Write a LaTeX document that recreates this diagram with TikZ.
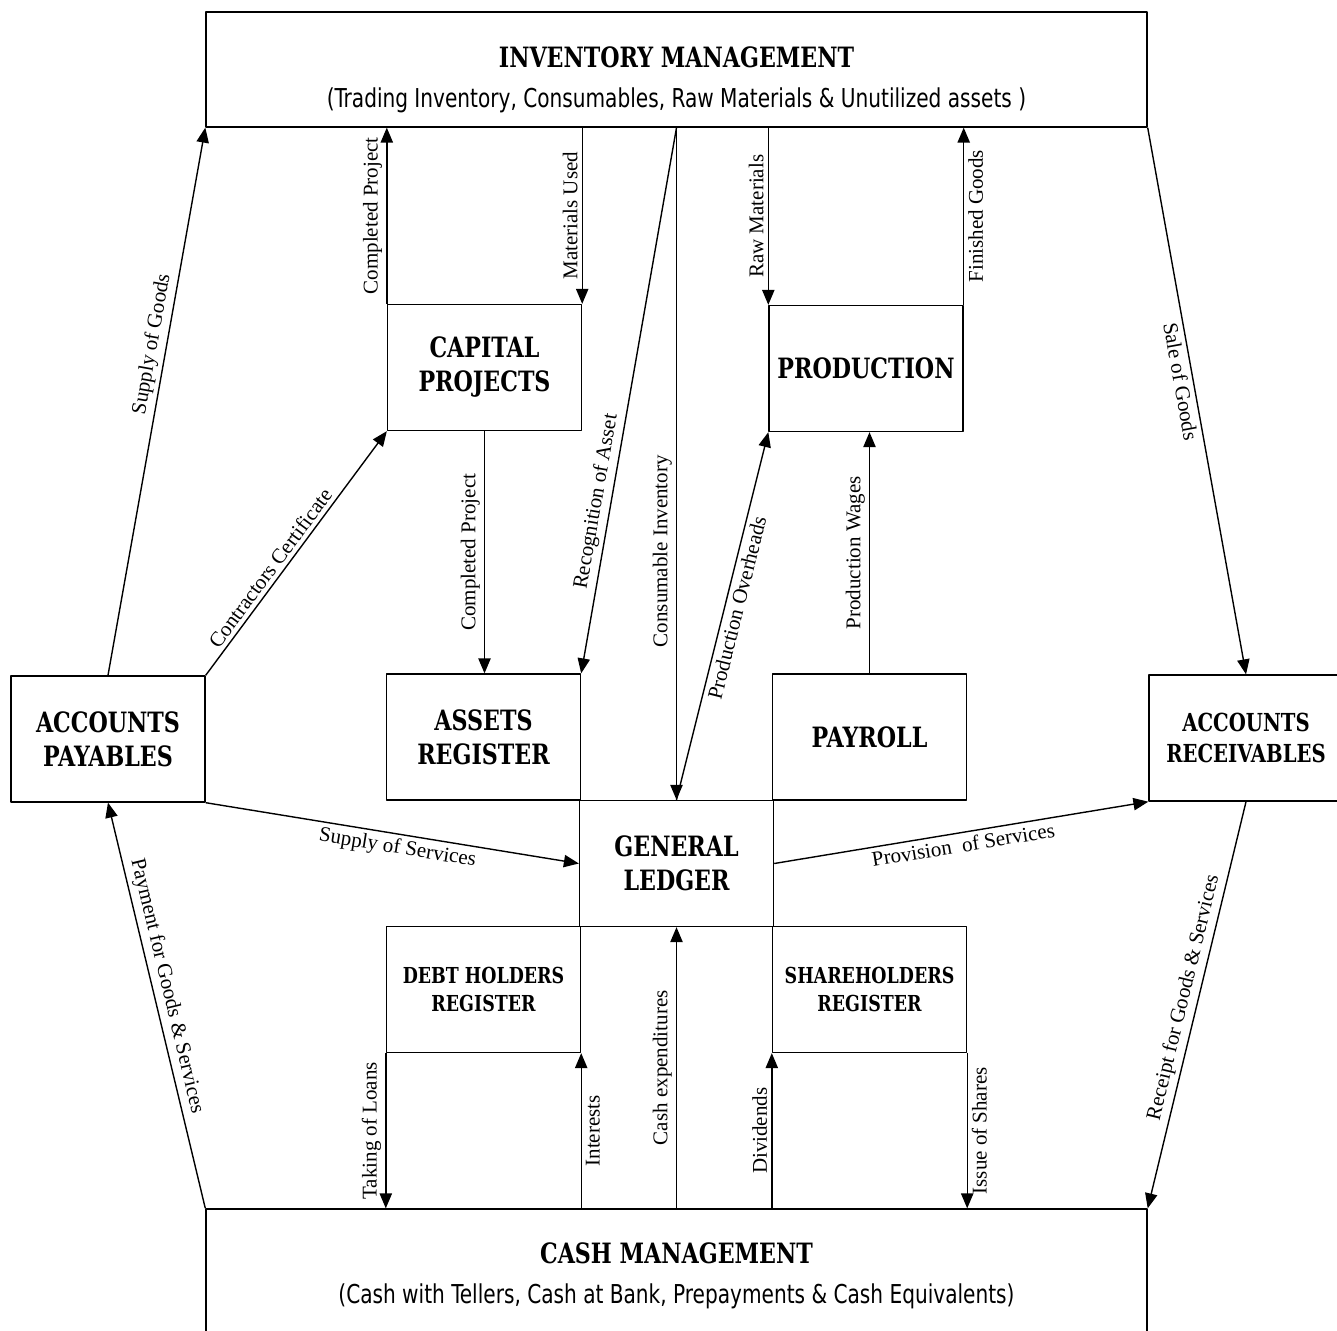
\documentclass[tikz,border=0pt]{standalone}
\usepackage{fontspec}
\setmainfont{Liberation Serif}
\newfontfamily\stencilfont{DejaVu Serif Condensed}[FakeStretch=0.88]
\newfontfamily\tahomafont{DejaVu Sans Condensed}[FakeStretch=0.86]
\usetikzlibrary{arrows}

\begin{document}
\begin{tikzpicture}[x=0.5pt,y=-0.5pt,>=triangle 45,line width=0.7pt,line join=round,
	blk/.style={draw,minimum width=97pt,minimum height=63pt,inner sep=0pt,align=center},
	bigttl/.style={font=\stencilfont\bfseries\fontsize{14}{17}\selectfont},
	midttl/.style={font=\stencilfont\bfseries\fontsize{12.4}{15.5}\selectfont},
	smallttl/.style={font=\stencilfont\bfseries\fontsize{11}{14}\selectfont},
	sl/.style={font=\fontsize{10.5}{12}\selectfont,sloped,inner sep=2pt},
	vl/.style={font=\fontsize{10.5}{12}\selectfont,rotate=90,anchor=south,inner sep=2pt},
	vr/.style={font=\fontsize{10.5}{12}\selectfont,rotate=90,anchor=north,inner sep=2pt}]
\useasboundingbox (0,0) rectangle (1337,1331);
\clip (0,0) rectangle (1337,1331);
\node[blk,minimum width=470.5pt,minimum height=57.5pt] (im) at (676.5,69.5) {};
\node[align=center] (imtxt) at (676.5,80) {{\stencilfont\bfseries\fontsize{14}{19}\selectfont INVENTORY MANAGEMENT}\\[8pt]
	{\tahomafont\fontsize{13}{15}\selectfont (Trading Inventory, Consumables, Raw Materials \& Unutilized assets )}};
\node[blk,minimum width=470.5pt,minimum height=66pt] (cm) at (676.5,1275) {};
\node[align=center] (cmtxt) at (676.5,1276) {{\stencilfont\bfseries\fontsize{14}{19}\selectfont CASH MANAGEMENT}\\[8pt]
	{\tahomafont\fontsize{13}{15}\selectfont (Cash with Tellers, Cash at Bank, Prepayments \& Cash Equivalents)}};
\node[blk,bigttl] (cp) at (484.5,367.5) {CAPITAL\\PROJECTS};
\node[blk,bigttl] (prod) at (866,368.5) {PRODUCTION};
\node[blk,bigttl] (ap) at (108,739) {ACCOUNTS\\PAYABLES};
\node[blk,bigttl] (asr) at (483.5,737) {ASSETS\\REGISTER};
\node[blk,bigttl] (pay) at (869.5,737) {PAYROLL};
\node[blk,midttl] (arec) at (1246,738) {ACCOUNTS\\RECEIVABLES};
\node[blk,bigttl] (gl) at (676.5,863.5) {GENERAL\\LEDGER};
\node[blk,smallttl] (dhr) at (483.5,989.5) {DEBT HOLDERS\\REGISTER};
\node[blk,smallttl] (shr) at (869.5,989.5) {SHAREHOLDERS\\REGISTER};
\draw[->] (ap.north) -- node[sl,above,pos=0.6]{Supply of Goods} (im.south west);
\draw[->] (ap.north east) -- node[sl,above,pos=0.41]{Contractors Certificate} (cp.south west);
\draw[->] (cp.north west) -- node[vl]{Completed Project} (cp.north west |- im.south);
\draw[->] (cp.north east |- im.south) -- node[vl]{Materials Used} (cp.north east);
\draw[->] (cp.south) -- node[vl]{Completed Project} (cp.south |- asr.north);
\draw[->] (im.south) -- node[sl,above,pos=0.69]{Recognition of Asset} (asr.north east);
\draw[->] (im.south) -- node[vl,pos=0.63]{Consumable Inventory} (gl.north);
\draw[->] (gl.north) -- node[sl,below,pos=0.53]{Production Overheads} (prod.south west);
\draw[->] (prod.north west |- im.south) -- node[vl]{Raw Materials} (prod.north west);
\draw[->] (prod.north east) -- node[vr]{Finished Goods} (prod.north east |- im.south);
\draw[->] (pay.north) -- node[vl]{Production Wages} (pay.north |- prod.south);
\draw[->] (im.south east) -- node[sl,below,pos=0.46]{Sale of Goods} (arec.north);
\draw[->] (ap.south east) -- node[sl,below,pos=0.52]{Supply of Services} (gl.west);
\draw[->] (gl.east) -- node[sl,below]{Provision~ of Services} (arec.south west);
\draw[->] (cm.north west) -- node[sl,above,pos=0.54]{Payment for Goods \& Services} (ap.south);
\draw[->] (arec.south) -- node[sl,above,pos=0.49]{Receipt for Goods \& Services} (cm.north east);
\draw[->] (dhr.south west) -- node[vl]{Taking of Loans} (dhr.south west |- cm.north);
\draw[->] (dhr.south east |- cm.north) -- node[vr]{Interests} (dhr.south east);
\draw[->] (cm.north) -- node[vl]{Cash expenditures} (gl.south);
\draw[->] (shr.south west |- cm.north) -- node[vl]{Dividends} (shr.south west);
\draw[->] (shr.south east) -- node[vr]{Issue of Shares} (shr.south east |- cm.north);
\end{tikzpicture}
\end{document}
